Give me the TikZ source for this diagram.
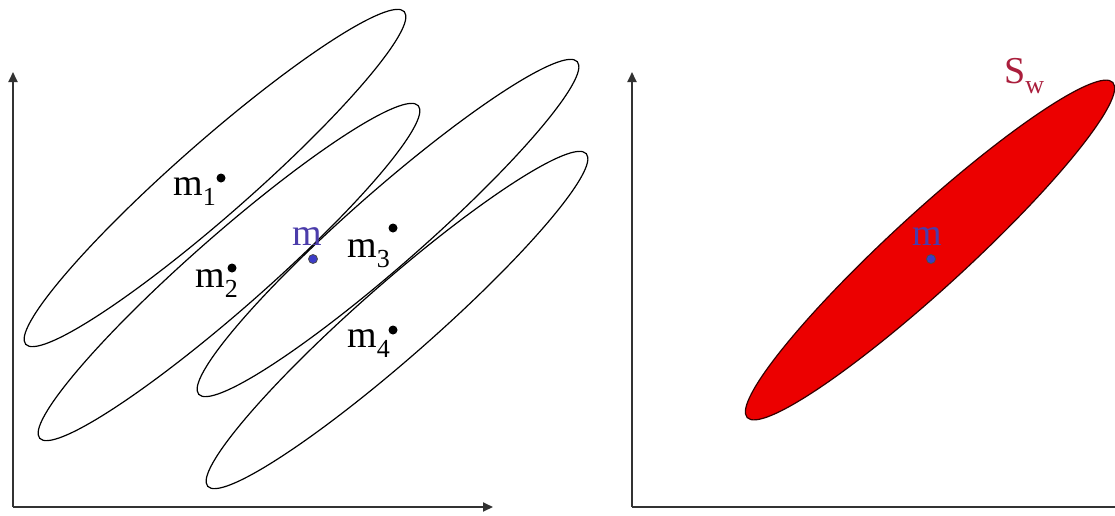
\documentclass[tikz,border=0pt]{standalone}
\usepackage{fontspec}
\setmainfont{Liberation Serif}
\usetikzlibrary{arrows.meta}
\definecolor{axisgray}{RGB}{50,50,50}
\definecolor{meanblue}{RGB}{75,60,170}
\definecolor{dotblue}{RGB}{60,60,200}
\definecolor{swred}{RGB}{170,30,60}
\definecolor{fillred}{RGB}{236,0,0}
\newcommand{\lowsub}[1]{\raisebox{-10pt}{\fontsize{26}{26}\selectfont #1}}
\begin{document}
\begin{tikzpicture}[x=1pt,y=-1pt,
  axis/.style={draw=axisgray, line width=1.8pt},
  axarrow/.style={-{Triangle[length=10pt,width=9pt]}},
  ell/.style={draw=black, line width=1.2pt},
  blackdot/.style={circle, fill=black, inner sep=0pt, minimum size=9pt},
  bluedot/.style={circle, fill=dotblue, draw=black!70, line width=0.8pt, inner sep=0pt, minimum size=9pt},
  lbl/.style={inner sep=0pt, anchor=base west, font=\fontsize{38}{38}\selectfont},
]
\useasboundingbox (0,0) rectangle (1115,515);
\fill[white] (0,0) rectangle (1115,515);
\clip (0,0) rectangle (1115,515);

% ---- left panel ----
\coordinate (lo) at (13,507);
\coordinate (ly) at (13,72);
\coordinate (lx) at (493,507);
\draw[axis, axarrow] (lo) -- (ly);
\draw[axis, axarrow] (lo) -- (lx);

\draw[ell, shift={(215,178)}, rotate=41.3] (0,0) ellipse [x radius=252pt, y radius=37pt];
\draw[ell, shift={(229,272)}, rotate=41.3] (0,0) ellipse [x radius=252pt, y radius=37pt];
\draw[ell, shift={(388,228)}, rotate=41.3] (0,0) ellipse [x radius=252pt, y radius=37pt];
\draw[ell, shift={(397,320)}, rotate=41.3] (0,0) ellipse [x radius=252pt, y radius=37pt];

\node[blackdot] (d1) at (221,178) {};
\node[blackdot] (d2) at (232,268) {};
\node[blackdot] (d3) at (393,228) {};
\node[blackdot] (d4) at (393,330) {};
\node[bluedot] (dm) at (313,259) {};

\node[lbl] (m1) at (173,195) {m\lowsub{1}};
\node[lbl] (m2) at (195,287) {m\lowsub{2}};
\node[lbl] (m3) at (347,257) {m\lowsub{3}};
\node[lbl] (m4) at (347,347) {m\lowsub{4}};
\node[lbl, text=meanblue] (mm) at (292,245) {m};

% ---- right panel ----
\coordinate (ro) at (632,507);
\coordinate (ry) at (632,72);
\coordinate (rx) at (1140,507);
\draw[axis, axarrow] (ro) -- (ry);
\draw[axis] (ro) -- (rx);

\filldraw[fill=fillred, draw=black!80!red, line width=1.2pt, shift={(930,250)}, rotate=42.5] (0,0) ellipse [x radius=248pt, y radius=38pt];
\node[bluedot] (rdm) at (931,259) {};
\node[lbl, text=meanblue] (rm) at (912,245) {m};
\node[lbl, text=swred] (sw) at (1004,83) {S\lowsub{w}};
\end{tikzpicture}
\end{document}
